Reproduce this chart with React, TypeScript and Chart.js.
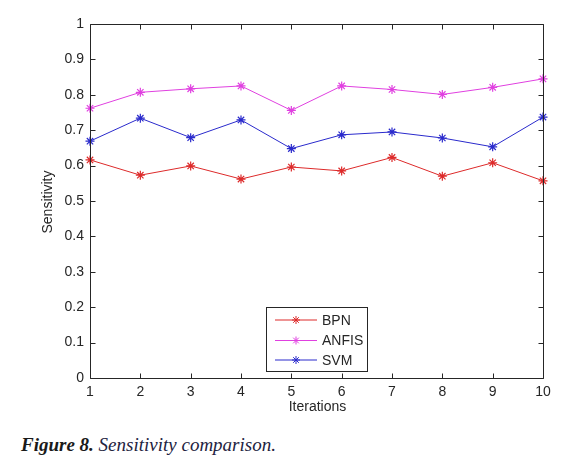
import React, { useEffect, useRef } from "react";
import { Chart, registerables } from "chart.js";

Chart.register(...registerables);

const iterations = ["1", "2", "3", "4", "5", "6", "7", "8", "9", "10"];
const bpn = [0.616, 0.573, 0.599, 0.562, 0.596, 0.585, 0.623, 0.570, 0.608, 0.557];
const anfis = [0.762, 0.807, 0.817, 0.825, 0.756, 0.825, 0.815, 0.801, 0.821, 0.845];
const svm = [0.669, 0.734, 0.679, 0.729, 0.648, 0.687, 0.695, 0.678, 0.653, 0.737];
const seriesNames = ["BPN", "ANFIS", "SVM"];
const seriesColors = ["#dd2a2a", "#e040e0", "#2a2acc"];
const yTicks = [0, 0.1, 0.2, 0.3, 0.4, 0.5, 0.6, 0.7, 0.8, 0.9, 1];

const FONT = "'Liberation Sans', Arial, sans-serif";
const AXIS_COLOR = "#262626";

const framePlugin = {
  id: "matlabFrame",
  afterDatasetsDraw(chart: any) {
    const { ctx, chartArea, scales } = chart;
    const { left, right, top, bottom } = chartArea;
    ctx.save();
    ctx.strokeStyle = AXIS_COLOR;
    ctx.lineWidth = 1;
    const L = Math.round(left) + 0.5;
    const R = Math.round(right) + 0.5;
    const T = Math.round(top) + 0.5;
    const B = Math.round(bottom) + 0.5;
    ctx.beginPath();
    ctx.rect(L, T, R - L, B - T);
    ctx.stroke();
    const tl = 5;
    ctx.beginPath();
    iterations.forEach((_, i) => {
      const x = Math.round(scales.x.getPixelForValue(i)) + 0.5;
      ctx.moveTo(x, B);
      ctx.lineTo(x, B - tl);
      ctx.moveTo(x, T);
      ctx.lineTo(x, T + tl);
    });
    yTicks.forEach((v) => {
      const y = Math.round(scales.y.getPixelForValue(v)) + 0.5;
      ctx.moveTo(L, y);
      ctx.lineTo(L + tl, y);
      ctx.moveTo(R, y);
      ctx.lineTo(R - tl, y);
    });
    ctx.stroke();

    ctx.fillStyle = AXIS_COLOR;
    ctx.font = `14px ${FONT}`;
    ctx.textAlign = "center";
    ctx.textBaseline = "alphabetic";
    ctx.fillText("Iterations", (left + right) / 2 + 1, 411);
    ctx.save();
    ctx.translate(52, (top + bottom) / 2 + 1);
    ctx.rotate(-Math.PI / 2);
    ctx.fillText("Sensitivity", 0, 0);
    ctx.restore();

    const lx = 266.5, ly = 307.5, lw = 101, lh = 64;
    ctx.fillStyle = "#ffffff";
    ctx.fillRect(lx, ly, lw, lh);
    ctx.strokeStyle = AXIS_COLOR;
    ctx.strokeRect(lx, ly, lw, lh);
    const rows = [320, 340.5, 360];
    chart.data.datasets.forEach((ds: any, i: number) => {
      const y = rows[i];
      ctx.strokeStyle = ds.borderColor;
      ctx.lineWidth = 1;
      ctx.beginPath();
      ctx.moveTo(275, y);
      ctx.lineTo(317, y);
      ctx.stroke();
      const r = 4;
      ctx.beginPath();
      ctx.moveTo(296 - r, y);
      ctx.lineTo(296 + r, y);
      ctx.moveTo(296, y - r);
      ctx.lineTo(296, y + r);
      const d = r * 0.707;
      ctx.moveTo(296 - d, y - d);
      ctx.lineTo(296 + d, y + d);
      ctx.moveTo(296 - d, y + d);
      ctx.lineTo(296 + d, y - d);
      ctx.stroke();
      ctx.fillStyle = AXIS_COLOR;
      ctx.font = `14px ${FONT}`;
      ctx.textAlign = "left";
      ctx.textBaseline = "middle";
      ctx.fillText(ds.label, 322, y + 1);
    });
    ctx.restore();
  },
};

export default function App() {
  const canvasRef = useRef<HTMLCanvasElement | null>(null);

  useEffect(() => {
    const canvas = canvasRef.current;
    if (!canvas) return;
    const seriesData = [bpn, anfis, svm];
    const chart = new Chart(canvas, {
      type: "line",
      data: {
        labels: iterations,
        datasets: seriesData.map((d, i) => ({
          label: seriesNames[i],
          data: d,
          borderColor: seriesColors[i],
          backgroundColor: seriesColors[i],
          borderWidth: 1,
          pointStyle: "star",
          pointRadius: 4.5,
          pointBorderWidth: 1.2,
          pointBorderColor: seriesColors[i],
          tension: 0,
          fill: false,
          clip: false as any,
        })),
      },
      options: {
        animation: false,
        responsive: false,
        maintainAspectRatio: false,
        layout: { padding: { left: 0, right: 31, top: 24, bottom: 0 } },
        plugins: {
          legend: { display: false },
          tooltip: { enabled: false },
          title: { display: false },
        },
        scales: {
          x: {
            type: "category",
            offset: false,
            grid: { display: false, drawTicks: false },
            border: { display: false },
            ticks: {
              color: AXIS_COLOR,
              font: { family: FONT, size: 14 },
              padding: 6,
              maxRotation: 0,
              autoSkip: false,
            },
            afterFit: (scale: any) => {
              scale.height = 425 - 378;
            },
          },
          y: {
            type: "linear",
            min: 0,
            max: 1,
            grid: { display: false, drawTicks: false },
            border: { display: false },
            ticks: {
              stepSize: 0.1,
              color: AXIS_COLOR,
              font: { family: FONT, size: 14 },
              padding: 6,
              callback: (v: any) => String(Number(Number(v).toFixed(1))),
            },
            afterFit: (scale: any) => {
              scale.width = 90;
            },
          },
        },
      },
      plugins: [framePlugin],
    });
    return () => chart.destroy();
  }, []);

  return (
    <div
      style={{
        position: "absolute",
        left: 0,
        top: 0,
        width: 574,
        height: 467,
        background: "#ffffff",
        overflow: "hidden",
      }}
    >
      <canvas
        ref={canvasRef}
        width={574}
        height={425}
        style={{ position: "absolute", left: 0, top: 0, width: 574, height: 425 }}
      />
      <div
        style={{
          position: "absolute",
          left: 21,
          top: 435,
          fontFamily: "'Liberation Serif', 'Times New Roman', serif",
          fontSize: 19,
          lineHeight: "20px",
          fontStyle: "italic",
          whiteSpace: "nowrap",
          color: "#23233f",
        }}
      >
        <span style={{ fontWeight: "bold", color: "#1a1a1a" }}>Figure 8.</span>{" "}
        <span>Sensitivity comparison.</span>
      </div>
    </div>
  );
}
